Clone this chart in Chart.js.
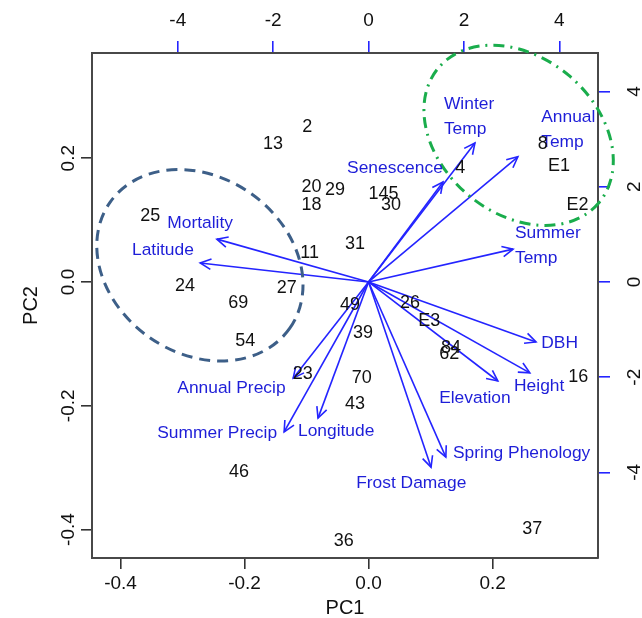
<!DOCTYPE html>
<html>
<head>
<meta charset="utf-8">
<script src="https://cdn.jsdelivr.net/npm/chart.js@4.4.1/dist/chart.umd.min.js"></script>
<style>
  html, body { margin: 0; padding: 0; background: #fff; }
  #biplot { display: block; }
</style>
</head>
<body>
<canvas id="biplot" width="642" height="618"></canvas>
<script>
// observation scores, read on the bottom (PC1) and left (PC2) axes
const obsLabels = ['2', '13', '20', '29', '18', '145', '30', '4', '8', 'E1', 'E2', '25', '11', '31', '24', '69',
    '27', '49', '26', 'E3', '84', '62', '39', '54', '23', '70', '43', '16', '46', '36', '37'];
const obsPC1 = [-0.099, -0.154, -0.092, -0.054, -0.092, 0.024, 0.036, 0.148, 0.281, 0.307, 0.337, -0.352, -0.095, -0.022, -0.296, -0.210,
    -0.132, -0.030, 0.067, 0.098, 0.133, 0.130, -0.009, -0.199, -0.106, -0.011, -0.022, 0.338, -0.209, -0.040, 0.264];
const obsPC2 = [0.251, 0.223, 0.153, 0.149, 0.124, 0.142, 0.124, 0.184, 0.223, 0.187, 0.124, 0.107, 0.046, 0.061, -0.007, -0.034,
    -0.010, -0.037, -0.034, -0.063, -0.107, -0.116, -0.083, -0.095, -0.149, -0.155, -0.197, -0.153, -0.307, -0.419, -0.399];

// variable loadings, read on the top and right axes
const varNames = ['Mortality', 'Latitude', 'Winter\nTemp', 'Senescence', 'Annual\nTemp', 'Summer\nTemp', 'DBH', 'Height',
    'Elevation', 'Spring Phenology', 'Frost Damage', 'Annual Precip', 'Summer Precip', 'Longitude'];
const varPC1 = [-3.18, -3.53, 2.23, 1.56, 3.13, 3.03, 3.51, 3.38, 2.71, 1.62, 1.31, -1.58, -1.77, -1.06];
const varPC2 = [0.90, 0.40, 2.92, 2.10, 2.63, 0.69, -1.26, -1.91, -2.08, -3.68, -3.89, -2.02, -3.15, -2.86];
// where each name starts (left edge, first line), same units as the loadings
const varTextPC1 = [-4.22, -4.96, 1.58, -0.45, 3.62, 3.07, 3.62, 3.05, 1.48, 1.77, -0.26, -4.01, -4.43, -1.48];
const varTextPC2 = [1.24, 0.67, 3.74, 2.39, 3.47, 1.03, -1.28, -2.18, -2.44, -3.59, -4.22, -2.23, -3.17, -3.13];

const scoreTicks = [-0.4, -0.2, 0, 0.2];
const loadingTicks = [-4, -2, 0, 2, 4];
const scoreRange = [-0.446, 0.370];
const loadingRatio = 13;

// circled groups, in score units
const groupCenterPC1 = [-0.272, 0.242];
const groupCenterPC2 = [0.027, 0.237];
const groupRadiusA = [0.177, 0.169];
const groupRadiusB = [0.142, 0.126];
const groupTilt = [35, 40];

const FONT = '"Liberation Sans", Arial, Helvetica, sans-serif';
const BLUE_LINE = '#2424ff';
const BLUE_TEXT = '#1e1ed8';

const biplotDecor = {
    id: 'biplotDecor',
    afterDatasetsDraw(chart) {
        const ctx = chart.ctx;
        const {x, y} = chart.scales;
        const area = chart.chartArea;
        ctx.save();

        // group ellipses
        const ellipseStyles = [
            {color: '#3d5f88', dash: [11, 7]},
            {color: '#1aad4c', dash: [11, 6, 2, 6]},
        ];
        const unitX = x.getPixelForValue(1) - x.getPixelForValue(0);
        groupCenterPC1.forEach((cx, i) => {
            ctx.beginPath();
            ctx.setLineDash(ellipseStyles[i].dash);
            ctx.strokeStyle = ellipseStyles[i].color;
            ctx.lineWidth = 3;
            ctx.ellipse(x.getPixelForValue(cx), y.getPixelForValue(groupCenterPC2[i]),
                groupRadiusA[i] * unitX, groupRadiusB[i] * unitX, groupTilt[i] * Math.PI / 180, 0, 2 * Math.PI);
            ctx.stroke();
        });
        ctx.setLineDash([]);

        // arrow heads on the loading lines
        ctx.strokeStyle = BLUE_LINE;
        ctx.lineWidth = 1.6;
        varNames.forEach((name, i) => {
            const pts = chart.getDatasetMeta(i + 1).data;
            const a = Math.atan2(pts[1].y - pts[0].y, pts[1].x - pts[0].x);
            const len = 12, spread = 0.45;
            ctx.beginPath();
            ctx.moveTo(pts[1].x - len * Math.cos(a - spread), pts[1].y - len * Math.sin(a - spread));
            ctx.lineTo(pts[1].x, pts[1].y);
            ctx.lineTo(pts[1].x - len * Math.cos(a + spread), pts[1].y - len * Math.sin(a + spread));
            ctx.stroke();
        });

        // variable names
        const {x2, y2} = chart.scales;
        ctx.fillStyle = BLUE_TEXT;
        ctx.font = '17.4px ' + FONT;
        ctx.textAlign = 'left';
        ctx.textBaseline = 'middle';
        varNames.forEach((name, i) => {
            const px = x2.getPixelForValue(varTextPC1[i]);
            const py = y2.getPixelForValue(varTextPC2[i]);
            name.split('\n').forEach((line, k) => ctx.fillText(line, px, py + k * 25.5));
        });

        // observation labels
        ctx.fillStyle = '#111';
        ctx.font = '18px ' + FONT;
        ctx.textAlign = 'center';
        chart.getDatasetMeta(0).data.forEach((pt, i) => ctx.fillText(obsLabels[i], pt.x, pt.y));

        // rotated tick labels on the vertical axes
        ctx.font = '19px ' + FONT;
        const sideLabel = (scale, px, fmt) => {
            scale.ticks.forEach(t => {
                ctx.save();
                ctx.translate(px, scale.getPixelForValue(t.value));
                ctx.rotate(-Math.PI / 2);
                ctx.fillText(fmt(t.value), 0, 0);
                ctx.restore();
            });
        };
        sideLabel(y, area.left - 23, v => v.toFixed(1));
        sideLabel(y2, area.right + 37, v => String(v));

        ctx.restore();
    }
};

const datasets = [{
    label: 'observations',
    data: obsPC1.map((v, i) => ({x: v, y: obsPC2[i]})),
    pointRadius: 0,
    xAxisID: 'x',
    yAxisID: 'y',
}].concat(varNames.map((name, i) => ({
    label: name,
    data: [{x: 0, y: 0}, {x: varPC1[i], y: varPC2[i]}],
    showLine: true,
    borderColor: BLUE_LINE,
    borderWidth: 1.6,
    pointRadius: 0,
    xAxisID: 'x2',
    yAxisID: 'y2',
})));

const sharedGrid = (color, len) => ({
    drawOnChartArea: false,
    drawTicks: true,
    tickLength: len,
    tickColor: color,
    lineWidth: 1.6,
});
const box = {display: true, color: '#484848', width: 2};

new Chart(document.getElementById('biplot'), {
    type: 'scatter',
    data: {datasets: datasets},
    plugins: [biplotDecor],
    options: {
        responsive: false,
        animation: false,
        devicePixelRatio: 1,
        events: [],
        layout: {padding: 0},
        plugins: {
            legend: {display: false},
            tooltip: {enabled: false},
        },
        scales: {
            x: {
                type: 'linear',
                position: 'bottom',
                min: scoreRange[0],
                max: scoreRange[1],
                afterBuildTicks: s => { s.ticks = scoreTicks.map(v => ({value: v})); },
                afterFit: s => { s.height = 60; },
                grid: sharedGrid('#333', 11),
                border: box,
                ticks: {
                    color: '#111',
                    padding: 3,
                    maxRotation: 0,
                    font: {family: FONT, size: 19},
                    callback: v => Number(v).toFixed(1),
                },
                title: {
                    display: true,
                    text: 'PC1',
                    color: '#111',
                    padding: 0,
                    font: {family: FONT, size: 20, lineHeight: 1},
                },
            },
            x2: {
                type: 'linear',
                position: 'top',
                min: scoreRange[0] * loadingRatio,
                max: scoreRange[1] * loadingRatio,
                afterBuildTicks: s => { s.ticks = loadingTicks.map(v => ({value: v})); },
                afterFit: s => { s.height = 53; },
                grid: sharedGrid(BLUE_LINE, 12),
                border: box,
                ticks: {
                    color: '#111',
                    padding: 9,
                    maxRotation: 0,
                    font: {family: FONT, size: 19},
                    callback: v => String(v),
                },
            },
            y: {
                type: 'linear',
                position: 'left',
                min: scoreRange[0],
                max: scoreRange[1],
                afterBuildTicks: s => { s.ticks = scoreTicks.map(v => ({value: v})); },
                afterFit: s => { s.width = 92; },
                grid: sharedGrid('#333', 11),
                border: box,
                ticks: {display: false},
                title: {
                    display: true,
                    text: 'PC2',
                    color: '#111',
                    padding: {top: 21, bottom: 0},
                    font: {family: FONT, size: 20, lineHeight: 1},
                },
            },
            y2: {
                type: 'linear',
                position: 'right',
                min: scoreRange[0] * loadingRatio,
                max: scoreRange[1] * loadingRatio,
                afterBuildTicks: s => { s.ticks = loadingTicks.map(v => ({value: v})); },
                afterFit: s => { s.width = 44; },
                grid: sharedGrid(BLUE_LINE, 12),
                border: box,
                ticks: {display: false},
            },
        },
    },
});
</script>
</body>
</html>
